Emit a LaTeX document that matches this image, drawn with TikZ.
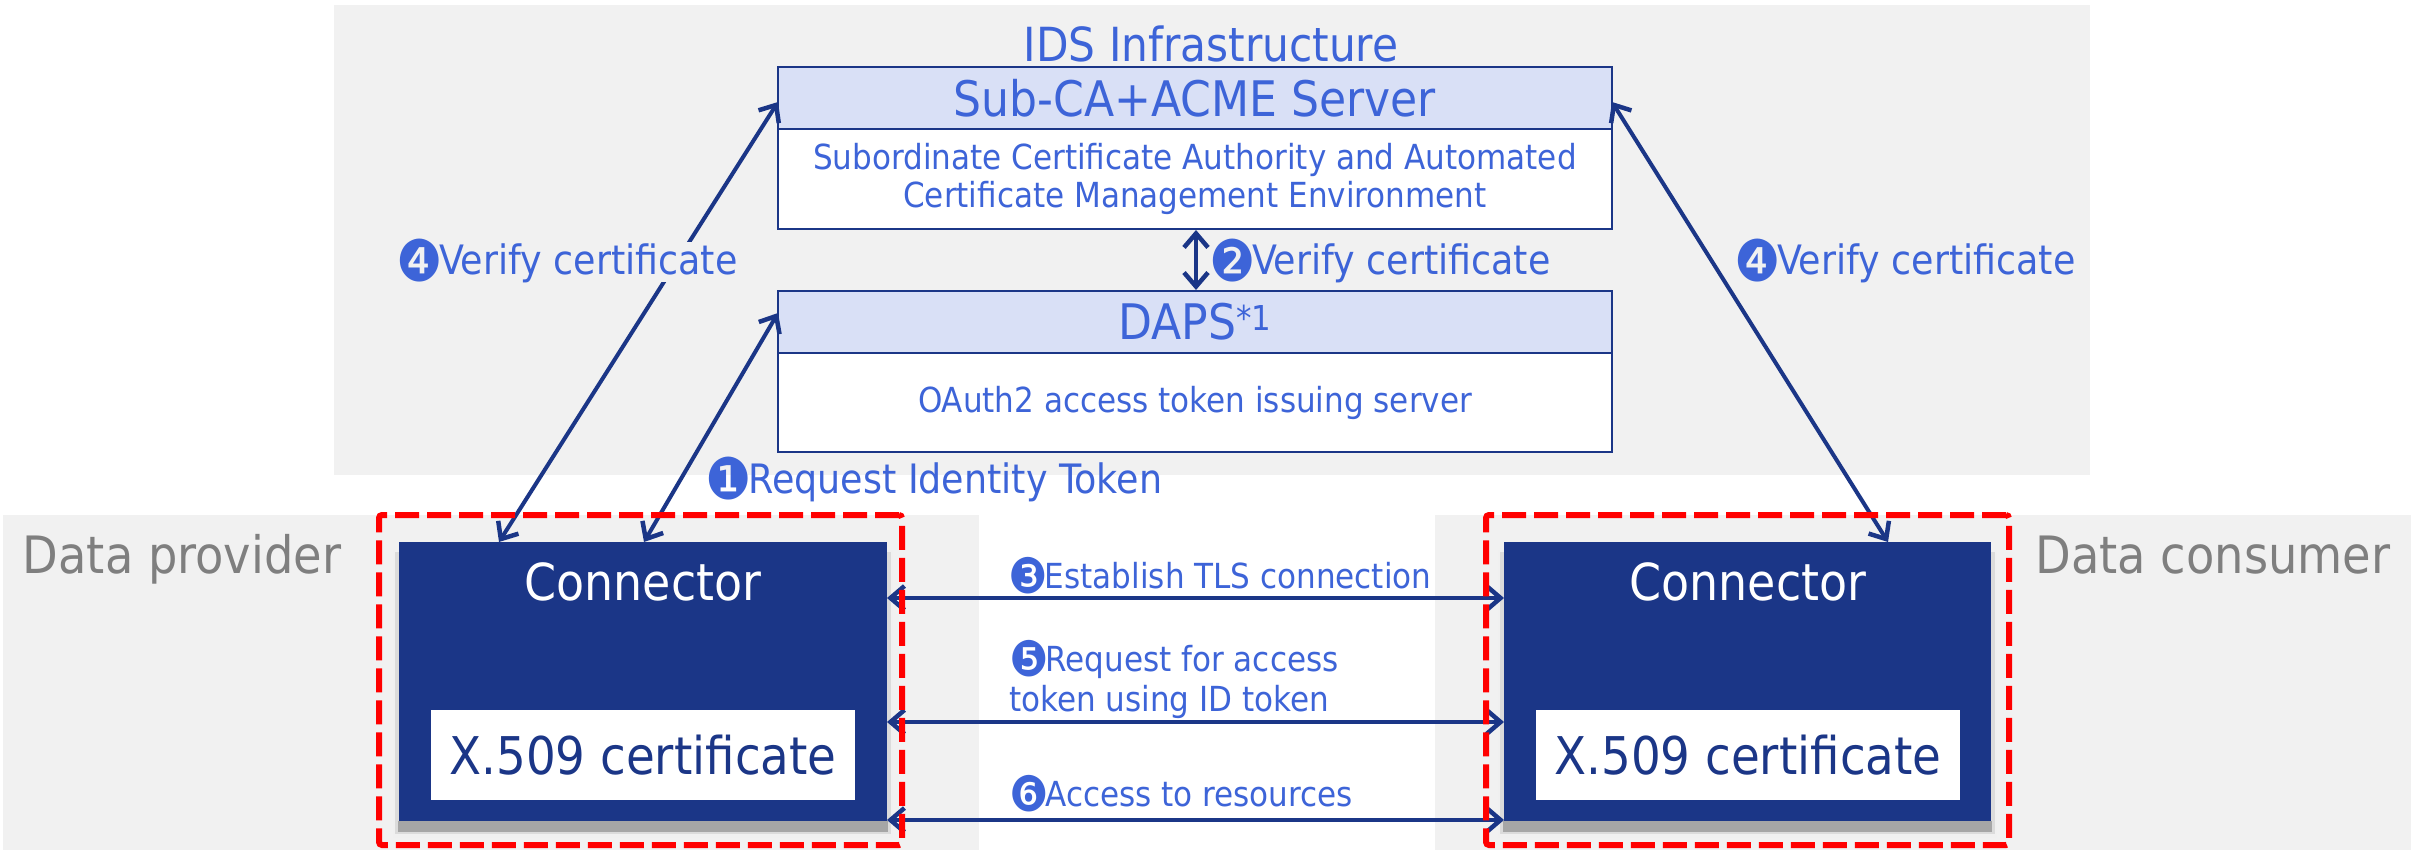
\documentclass[tikz,border=0pt]{standalone}
\usepackage{fontspec}
\setmainfont{DejaVu Sans Condensed}
\usetikzlibrary{arrows.meta}
\definecolor{navy}{HTML}{1B3687}
\definecolor{lblue}{HTML}{3D64D8}
\definecolor{hdr}{HTML}{D9E0F6}
\definecolor{bg}{HTML}{F1F1F1}
\definecolor{gtext}{HTML}{7F7F7F}
\newcommand{\fs}[1]{\fontsize{#1pt}{#1pt}\selectfont}
\newcommand{\cn}[1]{\raisebox{-.17em}{\scalebox{1.42}{#1}}\kern-.09em}
\tikzset{
  x=1pt,y=-1pt,
  panel/.style={fill=bg,inner sep=0pt,outer sep=0pt},
  hbox/.style={fill=hdr,draw=navy,line width=2pt,inner sep=0pt,outer sep=0pt,text=lblue,font=\fs{49}},
  bbox/.style={fill=white,draw=navy,line width=2pt,inner sep=0pt,outer sep=0pt,text=lblue,font=\fs{34.5},align=center},
  conn/.style={fill=navy,inner sep=0pt,outer sep=0pt},
  cert/.style={fill=white,inner sep=0pt,outer sep=0pt,text=navy,font=\fs{52}},
  ctitle/.style={text=white,font=\fs{51},inner sep=0pt,anchor=base},
  lab/.style={text=lblue,font=\fs{40.5},inner sep=0pt,anchor=base},
  slab/.style={text=lblue,font=\fs{34.5},inner sep=0pt,anchor=base},
  side/.style={text=gtext,font=\fs{51.5},inner sep=0pt,anchor=base},
  biarrow/.style={navy,line width=4pt,{Straight Barb[length=14pt,width=24pt,line width=4.5pt]}-{Straight Barb[length=14pt,width=24pt,line width=4.5pt]}},
  redbox/.style={draw=red,line width=6pt,dash pattern=on 24pt off 8pt,rounded corners=3pt,fill=none,inner sep=0pt,outer sep=0pt},
}
\begin{document}
\begin{tikzpicture}
\useasboundingbox (0,0) rectangle (2422,850);
\fill[white] (0,0) rectangle (2422,850);
% panels
\node[panel,minimum width=1756pt,minimum height=470pt] (ids) at (1212,240) {};
\node[panel,minimum width=976pt,minimum height=335pt] (prov) at (491,682.5) {};
\node[panel,minimum width=976pt,minimum height=335pt] (cons) at (1923,682.5) {};
% title
\node[text=lblue,font=\fs{47},inner sep=0pt,anchor=base] (title) at (1211,62) {IDS Infrastructure};
% server boxes
\node[hbox,minimum width=834pt,minimum height=62pt] (subh) at (1195,98) {Sub-CA+ACME Server};
\node[bbox,minimum width=834pt,minimum height=100pt] (subb) at (1195,179) {Subordinate Certificate Authority and Automated\\[3.5pt]Certificate Management Environment};
\node[hbox,minimum width=834pt,minimum height=62pt] (dapsh) at (1195,322) {DAPS\textsuperscript{*1}};
\node[bbox,minimum width=834pt,minimum height=99pt] (dapsb) at (1195,402.5) {OAuth2 access token issuing server};
% shadows
\foreach \l/\r in {399/887,1504/1991}{
  \fill[black!6]  (\l-6,550) rectangle (\r+6,838);
  \fill[black!14] (\l-4,552) rectangle (\r+4,834);
  \fill[black!35] (\l-1,821) rectangle (\r+1,832);
}
% connectors
\node[conn,minimum width=488pt,minimum height=279pt] (c1) at (643,681.5) {};
\node[conn,minimum width=487pt,minimum height=279pt] (c2) at (1747.5,681.5) {};
\node[cert,minimum width=424pt,minimum height=90pt] (x1) at (643,755) {X.509 certificate};
\node[cert,minimum width=424pt,minimum height=90pt] (x2) at (1748,755) {X.509 certificate};
\node[ctitle] (t1) at (643,600) {Connector};
\node[ctitle] (t2) at (1748,600) {Connector};
% side labels
\node[side] (dp) at (182,573) {Data provider};
\node[side] (dc) at (2213,573) {Data consumer};
% anchors of connectors
\coordinate (a1) at (778,102);
\coordinate (a2) at (499,542);
\coordinate (b1) at (778,313);
\coordinate (b2) at (644,542);
\coordinate (d1) at (1612,102);
\coordinate (d2) at (1888,542);
\coordinate (v1) at (1196,230);
\coordinate (v2) at (1196,290);
\coordinate (h1l) at (887,598);
\coordinate (h1r) at (1504,598);
\coordinate (h2l) at (887,722);
\coordinate (h2r) at (1504,722);
\coordinate (h3l) at (887,820);
\coordinate (h3r) at (1504,820);
% arrows
\draw[biarrow] (a2) -- (a1);
\draw[biarrow] (b2) -- (b1);
\draw[biarrow] (d2) -- (d1);
\draw[biarrow] (v1) -- (v2);
\draw[biarrow] (h1l) -- (h1r);
\draw[biarrow] (h2l) -- (h2r);
\draw[biarrow] (h3l) -- (h3r);
% labels
\node[lab,fill=bg,text depth=7pt,text height=33pt] (l4a) at (567,275) {\cn{❹}Verify certificate};
\node[lab] (l2) at (1380,275) {\cn{❷}Verify certificate};
\node[lab] (l4b) at (1905,275) {\cn{❹}Verify certificate};
\node[lab] (l1) at (934,493) {\cn{❶}Request Identity Token};
\node[slab] (l3) at (1220,588) {\cn{❸}Establish TLS connection};
\node[slab,anchor=base west] (l5a) at (1009,671) {\cn{❺}Request for access};
\node[slab,anchor=base west] (l5b) at (1009,711) {token using ID token};
\node[slab] (l6) at (1181,806) {\cn{❻}Access to resources};
% red
\node[redbox,minimum width=523pt,minimum height=330pt] (r1) at (640.5,680) {};
\node[redbox,minimum width=523pt,minimum height=330pt] (r2) at (1747.5,680) {};
\end{tikzpicture}
\end{document}
